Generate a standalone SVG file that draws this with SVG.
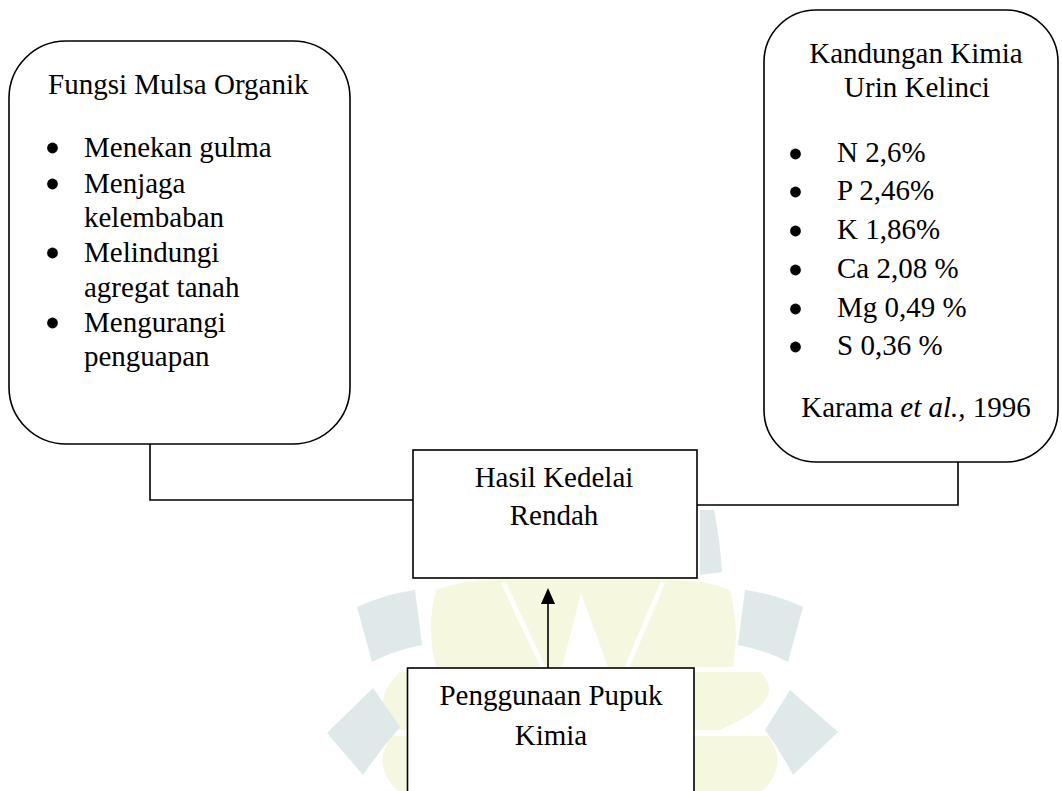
<svg xmlns="http://www.w3.org/2000/svg" width="1062" height="791" viewBox="0 0 1062 791">
  <style>
    .box { fill: #ffffff; stroke: #000000; stroke-width: 1.6; }
    .conn { fill: none; stroke: #000000; stroke-width: 1.6; }
    .t { font-family: "Liberation Serif", "Times New Roman", serif; font-size: 29px; fill: #000000; }
    .c { text-anchor: middle; }
    .wb { fill: #dfe9ea; }
    .wy { fill: #f5f7df; }
    .wg { fill: none; stroke: #ffffff; stroke-width: 5; }
  </style>
  <rect x="0" y="0" width="1062" height="791" fill="#ffffff"/>

  <!-- watermark (faint logo) -->
  <g id="watermark">
    <path class="wy" d="M436 590 Q470 578 500 580 L660 580 Q700 578 730 590 Q740 628 733 667 L436 667 Q426 628 436 590 Z"/>
    <path class="wy" d="M400 672 Q370 700 392 730 L720 730 Q790 700 760 672 Z"/>
    <path class="wy" d="M392 736 Q370 765 398 791 L762 791 Q790 765 768 736 Z"/>
    <path class="wg" d="M503 582 L543 667"/>
    <path class="wg" d="M663 582 L627 667"/>
    <path fill="#ffffff" d="M581 593 L562 667 L608 667 Z"/>
    <path class="wb" d="M700 510 L714 510 Q720 540 722 572 L700 575 Z"/>
    <path class="wb" d="M415 590 Q385 594 357 607 L372 662 Q395 650 422 645 Z"/>
    <path class="wb" d="M745 590 Q775 594 803 607 L788 662 Q765 650 738 645 Z"/>
    <path class="wb" d="M373 688 L327 733 L363 775 Q380 750 400 727 Z"/>
    <path class="wb" d="M790 690 L838 732 L793 775 Q780 750 765 730 Z"/>
  </g>

  <!-- connectors -->
  <g id="connectors">
    <path class="conn" d="M150 444 V500 H413"/>
    <path class="conn" d="M958 462 V505 H697"/>
    <path class="conn" d="M548 668 V602"/>
    <polygon points="548,588 541,604 555,604" fill="#000000"/>
  </g>

  <g id="node-mulsa">
    <rect class="box" x="9" y="41" width="341" height="403" rx="57" ry="57"/>
    <text class="t" x="48" y="94">Fungsi Mulsa Organik</text>
    <circle cx="52.5" cy="148" r="5.4"/>
    <text class="t" x="84" y="157">Menekan gulma</text>
    <circle cx="52.5" cy="184" r="5.4"/>
    <text class="t" x="84" y="193">Menjaga</text>
    <text class="t" x="84" y="227">kelembaban</text>
    <circle cx="52.5" cy="253" r="5.4"/>
    <text class="t" x="84" y="262">Melindungi</text>
    <text class="t" x="84" y="297">agregat tanah</text>
    <circle cx="52.5" cy="323" r="5.4"/>
    <text class="t" x="84" y="332">Mengurangi</text>
    <text class="t" x="84" y="366">penguapan</text>
  </g>

  <g id="node-urin">
    <rect class="box" x="764" y="10" width="294" height="452" rx="52" ry="52"/>
    <text class="t c" x="916" y="63">Kandungan Kimia</text>
    <text class="t c" x="917" y="97">Urin Kelinci</text>
    <circle cx="795.5" cy="154" r="5.4"/>
    <text class="t" x="837" y="162">N 2,6%</text>
    <circle cx="795.5" cy="192" r="5.4"/>
    <text class="t" x="837" y="200">P 2,46%</text>
    <circle cx="795.5" cy="231" r="5.4"/>
    <text class="t" x="837" y="239">K 1,86%</text>
    <circle cx="795.5" cy="270" r="5.4"/>
    <text class="t" x="837" y="278">Ca 2,08 %</text>
    <circle cx="795.5" cy="309" r="5.4"/>
    <text class="t" x="837" y="317">Mg 0,49 %</text>
    <circle cx="795.5" cy="347" r="5.4"/>
    <text class="t" x="837" y="355">S 0,36 %</text>
    <text class="t c" x="916" y="417">Karama <tspan font-style="italic">et al.,</tspan> 1996</text>
  </g>

  <g id="node-hasil">
    <rect class="box" x="413" y="450" width="284" height="128"/>
    <text class="t c" x="554" y="487">Hasil Kedelai</text>
    <text class="t c" x="554" y="525">Rendah</text>
  </g>

  <g id="node-pupuk">
    <rect class="box" x="407.5" y="668" width="286.5" height="140"/>
    <text class="t c" x="551" y="705">Penggunaan Pupuk</text>
    <text class="t c" x="551" y="745">Kimia</text>
  </g>
</svg>
